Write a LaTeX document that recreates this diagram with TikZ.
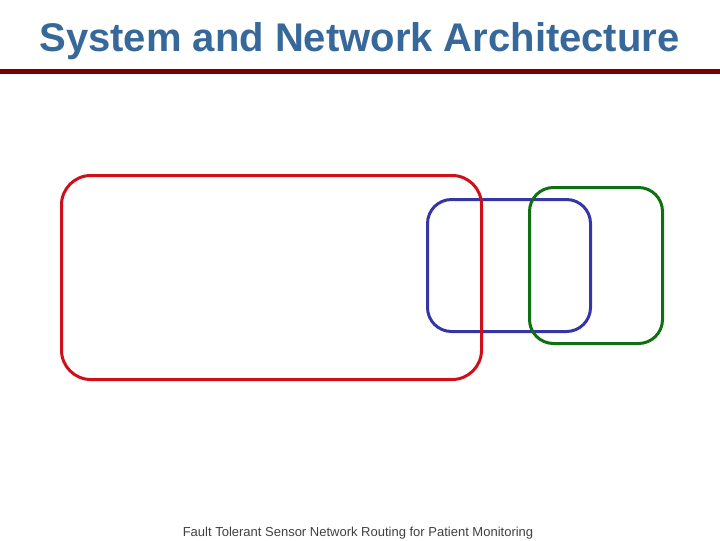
\documentclass[tikz,border=0pt]{standalone}
\usepackage{fontspec}
\setmainfont{Liberation Sans}
\definecolor{titleblue}{HTML}{36689A}
\definecolor{barred}{HTML}{780000}
\definecolor{boxred}{HTML}{D01018}
\definecolor{boxblue}{HTML}{3535A8}
\definecolor{boxgreen}{HTML}{0E7010}
\definecolor{footgray}{HTML}{404040}
\tikzset{
  region/.style={draw, line width=2.25pt, rounded corners=#1, inner sep=0pt, anchor=north west},
}
\begin{document}
\begin{tikzpicture}[x=0.75pt, y=-0.75pt]
\useasboundingbox (0,0) rectangle (720,540);
\node[anchor=base, text=titleblue, font=\fontsize{30}{34}\selectfont\bfseries, inner sep=0pt] (title) at (359.5,51) {System and Network Architecture};
\fill[barred] (0,69) rectangle (720,74);
\node[region=18pt, boxblue, minimum width=122.25pt, minimum height=99pt] (blue) at (426,198) {};
\node[region=22pt, boxred, minimum width=315pt, minimum height=153pt] (red) at (60,174) {};
\node[region=18pt, boxgreen, minimum width=99.75pt, minimum height=117pt] (green) at (528,186) {};
\node[anchor=base, text=footgray, font=\fontsize{9.75}{11}\selectfont, inner sep=0pt] (foot) at (358,536) {Fault Tolerant Sensor Network Routing for Patient Monitoring};
\end{tikzpicture}
\end{document}
